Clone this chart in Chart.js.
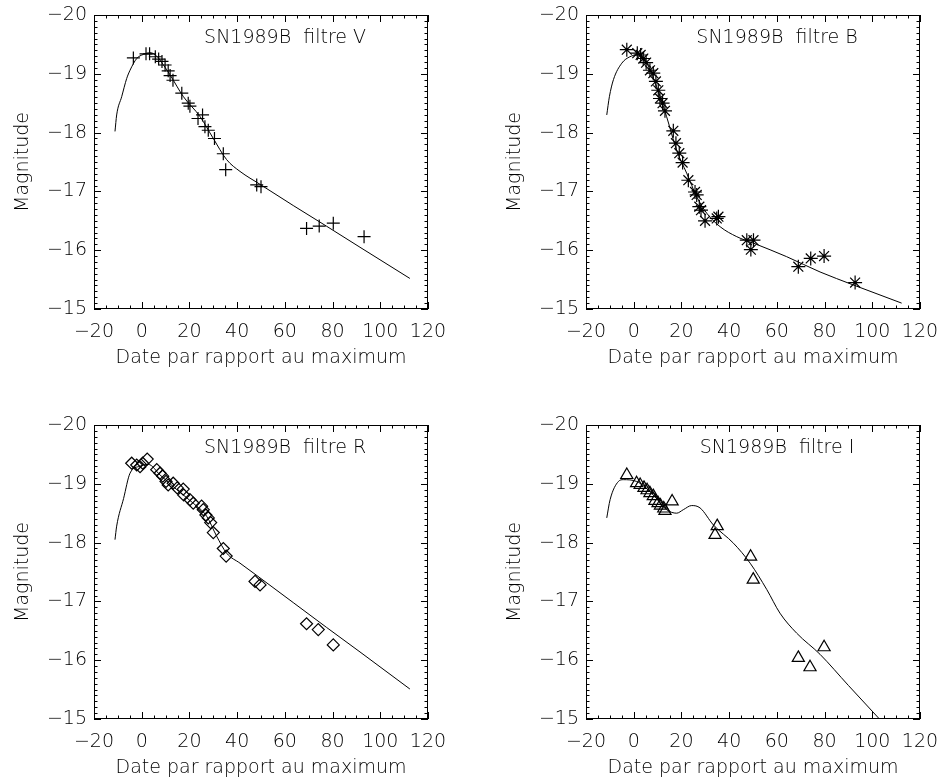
<!DOCTYPE html>
<html>
<head>
<meta charset="utf-8">
<script src="https://cdn.jsdelivr.net/npm/chart.js@4.4.0/dist/chart.umd.min.js"></script>
<style>
  html, body { margin: 0; padding: 0; background: #fff; overflow: hidden; }
  canvas { position: absolute; }
</style>
</head>
<body>
<canvas id="cV" width="469" height="390" style="left:0;top:0"></canvas>
<canvas id="cB" width="447" height="390" style="left:492px;top:0"></canvas>
<canvas id="cR" width="469" height="390" style="left:0;top:410px"></canvas>
<canvas id="cI" width="447" height="390" style="left:492px;top:410px"></canvas>
<script>
// axes
const X_TICKS = [-20, 0, 20, 40, 60, 80, 100, 120];
const Y_TICKS = [-20, -19, -18, -17, -16, -15];
const X_MINOR = 5;
const Y_MINOR = 0.1;

// filtre V : mesures + modele
const V_DAYS = [-3.5, 1.8, 3.3, 5.7, 7.1, 8.5, 9.8, 11.1, 11.9, 13.1, 16.8, 19.5, 20.2, 23.6, 25.5, 26.5, 27.9, 30.5, 34.2, 35.2, 48.2, 50.0, 69.1, 74.4, 80.3, 93.2];
const V_MAGS = [-19.27, -19.34, -19.34, -19.29, -19.25, -19.21, -19.15, -19.05, -18.97, -18.89, -18.67, -18.5, -18.45, -18.24, -18.3, -18.1, -18.04, -17.9, -17.64, -17.37, -17.11, -17.08, -16.37, -16.41, -16.46, -16.23];
const V_MODEL_DAYS = [-11.2, -10.5, -8.4, -6.3, -4.9, -2.1, 0.7, 3.5, 6.3, 9.1, 11.9, 17.5, 24.5, 30.0, 35.6, 41.2, 49.6, 63.5, 77.4, 91.5, 112.4];
const V_MODEL_MAGS = [-18.02, -18.30, -18.61, -18.92, -19.06, -19.26, -19.33, -19.36, -19.30, -19.15, -18.98, -18.61, -18.27, -17.90, -17.54, -17.34, -17.12, -16.76, -16.41, -16.05, -15.52];

// filtre B
const B_DAYS = [-2.9, 1.5, 2.9, 4.0, 5.2, 6.8, 8.2, 9.3, 10.3, 11.0, 12.1, 13.1, 16.6, 17.7, 19.1, 20.5, 22.9, 25.7, 26.4, 27.5, 28.2, 29.9, 34.8, 35.5, 47.4, 49.1, 50.2, 69.0, 74.2, 79.8, 92.8];
const B_MAGS = [-19.41, -19.35, -19.32, -19.26, -19.19, -19.06, -19.01, -18.87, -18.72, -18.58, -18.5, -18.37, -18.03, -17.82, -17.65, -17.49, -17.19, -16.99, -16.94, -16.74, -16.68, -16.5, -16.54, -16.57, -16.17, -16.01, -16.17, -15.72, -15.86, -15.9, -15.45];
const B_MODEL_DAYS = [-11.3, -10.2, -8.5, -5.0, -1.6, 1.5, 5.4, 9.6, 13.8, 18.0, 22.2, 26.4, 30.6, 36.2, 43.2, 50.2, 64.1, 78.1, 92.0, 112.3];
const B_MODEL_MAGS = [-18.30, -18.61, -18.90, -19.18, -19.29, -19.32, -19.18, -18.78, -18.27, -17.70, -17.31, -16.91, -16.63, -16.40, -16.23, -16.12, -15.89, -15.63, -15.41, -15.10];

// filtre R
const R_DAYS = [-4.2, -2.1, -0.7, 0.4, 2.3, 6.3, 7.7, 8.8, 10.2, 11.1, 13.2, 14.9, 17.4, 17.6, 20.2, 21.6, 25.1, 25.8, 26.9, 27.9, 28.9, 30.0, 34.2, 35.4, 47.5, 49.6, 69.1, 74.0, 80.3];
const R_MAGS = [-19.35, -19.32, -19.29, -19.35, -19.42, -19.24, -19.18, -19.13, -19.04, -18.98, -19.01, -18.93, -18.91, -18.81, -18.73, -18.67, -18.62, -18.56, -18.47, -18.42, -18.34, -18.17, -17.9, -17.77, -17.34, -17.28, -16.62, -16.52, -16.26];
const R_MODEL_DAYS = [-11.2, -10.5, -7.6, -4.9, -0.7, 2.8, 7.7, 14.7, 21.6, 27.2, 31.4, 35.6, 41.2, 49.6, 63.5, 77.4, 91.5, 112.4];
const R_MODEL_MAGS = [-18.05, -18.28, -18.75, -19.18, -19.30, -19.33, -19.15, -18.90, -18.67, -18.45, -18.11, -17.82, -17.65, -17.40, -16.98, -16.56, -16.14, -15.51];

// filtre I
const I_DAYS = [-2.9, 1.2, 2.7, 4.3, 5.6, 6.8, 8.2, 8.9, 10.2, 11.2, 12.6, 13.1, 16.1, 34.1, 35.0, 49.0, 50.1, 69.0, 73.9, 79.8];
const I_MAGS = [-19.15, -19.01, -18.98, -18.93, -18.89, -18.84, -18.79, -18.71, -18.67, -18.63, -18.58, -18.54, -18.70, -18.13, -18.28, -17.76, -17.37, -16.04, -15.88, -16.22];
const I_MODEL_DAYS = [-11.3, -9.9, -6.4, -4.4, 1.2, 8.2, 13.8, 18.0, 20.8, 24.3, 27.8, 33.4, 41.8, 48.8, 55.8, 61.3, 68.3, 78.1, 90.0, 103.0, 112.4];
const I_MODEL_MAGS = [-18.42, -18.73, -19.04, -19.07, -19.04, -18.81, -18.56, -18.50, -18.56, -18.63, -18.59, -18.30, -17.99, -17.65, -17.20, -16.80, -16.46, -16.10, -15.57, -15.00, -14.58];

const FONT = '"DejaVu Sans ExtraLight", "DejaVu Sans", sans-serif';
Chart.defaults.font.family = FONT;
Chart.defaults.font.size = 19;
Chart.defaults.font.weight = 200;
Chart.defaults.color = '#000';

const pairs = (xs, ys) => xs.map((v, i) => ({ x: v, y: ys[i] }));
const fmt = (v) => (v < 0 ? '\u2212' + Math.abs(v) : String(v));

// cadre style IDL avec graduations vers l'interieur
const idlFrame = {
  id: 'idlFrame',
  afterDraw(chart, args, opts) {
    const { ctx, chartArea: a, scales: { x, y } } = chart;
    ctx.save();
    ctx.strokeStyle = '#000';
    ctx.lineWidth = 1;
    ctx.strokeRect(Math.round(a.left) + 0.5, Math.round(a.top) + 0.5, Math.round(a.width) - 1, Math.round(a.height) - 1);
    ctx.beginPath();
    const x0 = X_TICKS[0], nx = Math.round((X_TICKS[X_TICKS.length - 1] - x0) / X_MINOR);
    for (let i = 0; i <= nx; i++) {
      const v = x0 + i * X_MINOR;
      const len = X_TICKS.includes(v) ? 7 : 3.5;
      const px = Math.round(x.getPixelForValue(v)) + 0.5;
      ctx.moveTo(px, a.bottom); ctx.lineTo(px, a.bottom - len);
      ctx.moveTo(px, a.top); ctx.lineTo(px, a.top + len);
    }
    const y0 = Y_TICKS[0], ny = Math.round((Y_TICKS[Y_TICKS.length - 1] - y0) / Y_MINOR);
    for (let i = 0; i <= ny; i++) {
      const v = y0 + i * Y_MINOR;
      const len = i % 10 === 0 ? 7 : 3.5;
      const py = Math.round(y.getPixelForValue(v)) + 0.5;
      ctx.moveTo(a.left, py); ctx.lineTo(a.left + len, py);
      ctx.moveTo(a.right, py); ctx.lineTo(a.right - len, py);
    }
    ctx.stroke();
    ctx.fillStyle = '#000';
    ctx.font = '200 19px ' + FONT;
    ctx.textAlign = 'center';
    ctx.textBaseline = 'middle';
    ctx.fillText(opts.text, a.left + a.width * 0.572, a.top + 23);
    ctx.restore();
  }
};

function makeChart(id, label, days, mags, modelDays, modelMags, style, radius, rightPad) {
  return new Chart(document.getElementById(id), {
    type: 'scatter',
    data: {
      datasets: [
        {
          data: pairs(modelDays, modelMags),
          showLine: true,
          borderColor: '#000',
          borderWidth: 1,
          pointRadius: 0,
          cubicInterpolationMode: 'monotone'
        },
        {
          data: pairs(days, mags),
          pointStyle: style,
          pointRadius: radius,
          pointBorderColor: '#000',
          pointBackgroundColor: 'rgba(0,0,0,0)',
          pointBorderWidth: 1.2
        }
      ]
    },
    options: {
      responsive: false,
      animation: false,
      layout: { padding: { top: 15, right: rightPad, left: 0, bottom: 0 } },
      plugins: {
        legend: { display: false },
        tooltip: { enabled: false },
        idlFrame: { text: label }
      },
      scales: {
        x: {
          type: 'linear',
          min: X_TICKS[0],
          max: X_TICKS[X_TICKS.length - 1],
          grid: { display: false, drawTicks: false },
          border: { display: false },
          ticks: { stepSize: 20, padding: 12, maxRotation: 0, callback: fmt },
          title: { display: true, text: 'Date par rapport au maximum', padding: { top: 0, bottom: 21 } },
          afterFit(s) { s.height = 81; s.paddingLeft = 0; s.paddingRight = 0; }
        },
        y: {
          type: 'linear',
          reverse: true,
          min: Y_TICKS[0],
          max: Y_TICKS[Y_TICKS.length - 1],
          grid: { display: false, drawTicks: false },
          border: { display: false },
          ticks: { stepSize: 1, padding: 7, callback: fmt },
          title: { display: true, text: 'Magnitude', padding: { top: 12, bottom: 0 } },
          afterFit(s) { s.width = 94; s.paddingTop = 0; s.paddingBottom = 0; }
        }
      }
    },
    plugins: [idlFrame]
  });
}

makeChart('cV', 'SN1989B  filtre V', V_DAYS, V_MAGS, V_MODEL_DAYS, V_MODEL_MAGS, 'cross', 6.5, 41);
makeChart('cB', 'SN1989B  filtre B', B_DAYS, B_MAGS, B_MODEL_DAYS, B_MODEL_MAGS, 'star', 7, 19);
makeChart('cR', 'SN1989B  filtre R', R_DAYS, R_MAGS, R_MODEL_DAYS, R_MODEL_MAGS, 'rectRot', 6, 41);
makeChart('cI', 'SN1989B  filtre I', I_DAYS, I_MAGS, I_MODEL_DAYS, I_MODEL_MAGS, 'triangle', 7, 19);
</script>
</body>
</html>
